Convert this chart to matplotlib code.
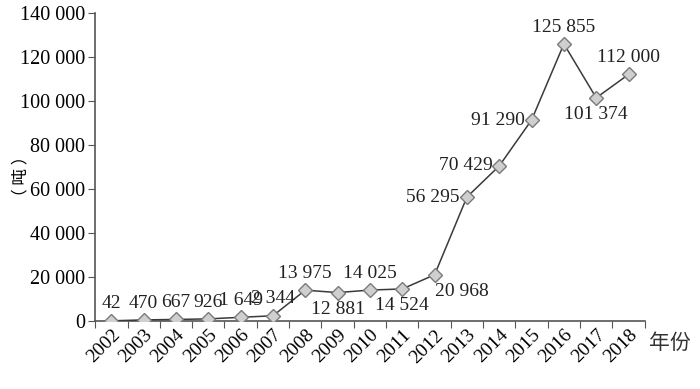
import numpy as np
import matplotlib.pyplot as plt
from matplotlib.ticker import FixedLocator

years = [str(y) for y in range(2002, 2019)]
output = [42, 470, 667, 926, 1649, 2344, 13975, 12881, 14025, 14524,
          20968, 56295, 70429, 91290, 125855, 101374, 112000]
# where each data label sits relative to its marker
label_pos = ["up", "up", "up", "up", "up", "up", "up", "down", "up", "down",
             "downright", "left", "left", "left", "up", "down", "up"]

def fmt(v):
    return "{:,}".format(v).replace(",", " ")

plt.rcParams["font.family"] = ["Liberation Serif", "Noto Sans CJK SC"]

fig = plt.figure(figsize=(7, 3.89), dpi=100)
ax = fig.add_axes([0.136, 0.175, 0.785, 0.792])

x = np.arange(len(years))
ax.plot(x, output, color="#3a3a3a", lw=1.1, marker="D", ms=7,
        mfc="#cfcfcf", mec="#7a7a7a", mew=1, zorder=3)

offsets = {"up": ((0, 6), "center", "bottom"),
           "down": ((0, -6), "center", "top"),
           "downright": ((20, -6), "center", "top"),
           "left": ((-5, 0), "right", "center")}
for xi, v, p in zip(x, output, label_pos):
    off, ha, va = offsets[p]
    ax.annotate(fmt(v), (xi, v), xytext=off, textcoords="offset points",
                ha=ha, va=va, fontsize=14, color="#222222")

ax.set_xlim(-0.5, len(years) - 0.5)
ax.set_ylim(0, 140000)
ax.set_yticks(range(0, 140001, 20000))
ax.set_yticklabels([fmt(v) for v in range(0, 140001, 20000)], fontsize=14.5)

ax.xaxis.set_major_locator(FixedLocator(np.arange(-0.5, len(years), 1)))
ax.set_xticklabels([])
ax.xaxis.set_minor_locator(FixedLocator(x))
ax.set_xticklabels(years, minor=True, rotation=45, ha="right",
                   rotation_mode="anchor", fontsize=14)
ax.tick_params(axis="x", which="minor", length=0, pad=4)
ax.tick_params(axis="x", which="major", length=5, color="#555555", direction="out")
ax.tick_params(axis="y", length=5, color="#555555", direction="out", pad=2)

for s in ["top", "right"]:
    ax.spines[s].set_visible(False)
for s in ["left", "bottom"]:
    ax.spines[s].set_color("#555555")
    ax.spines[s].set_linewidth(1.2)

ax.set_ylabel("（ 吨 ）", fontsize=12, family=["Noto Sans CJK SC"])
ax.yaxis.set_label_coords(-0.12, 0.47)
ax.text(1.008, -0.07, "年份", transform=ax.transAxes, fontsize=15,
        family=["Noto Sans CJK SC"], ha="left", va="center", color="#333333")

fig.savefig("out.png", dpi=100)
